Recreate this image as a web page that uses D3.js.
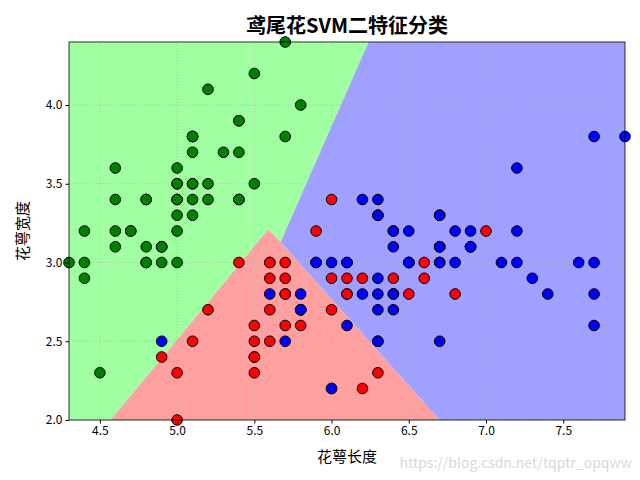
<!DOCTYPE html>
<html><head><meta charset="utf-8">
<script src="https://cdn.jsdelivr.net/npm/d3@7"></script>
<style>body{margin:0;background:#fff}</style>
</head><body>
<svg id="c" width="640" height="480"></svg>
<script>
var setosa = [[5.1,3.5],[4.9,3.0],[4.7,3.2],[4.6,3.1],[5.0,3.6],[5.4,3.9],[4.6,3.4],[5.0,3.4],[4.4,2.9],[4.9,3.1],[5.4,3.7],[4.8,3.4],[4.8,3.0],[4.3,3.0],[5.8,4.0],[5.7,4.4],[5.4,3.9],[5.1,3.5],[5.7,3.8],[5.1,3.8],[5.4,3.4],[5.1,3.7],[4.6,3.6],[5.1,3.3],[4.8,3.4],[5.0,3.0],[5.0,3.4],[5.2,3.5],[5.2,3.4],[4.7,3.2],[4.8,3.1],[5.4,3.4],[5.2,4.1],[5.5,4.2],[4.9,3.1],[5.0,3.2],[5.5,3.5],[4.9,3.1],[4.4,3.0],[5.1,3.4],[5.0,3.5],[4.5,2.3],[4.4,3.2],[5.0,3.5],[5.1,3.8],[4.8,3.0],[5.1,3.8],[4.6,3.2],[5.3,3.7],[5.0,3.3]];
var versicolor = [[7.0,3.2],[6.4,3.2],[6.9,3.1],[5.5,2.3],[6.5,2.8],[5.7,2.8],[6.3,3.3],[4.9,2.4],[6.6,2.9],[5.2,2.7],[5.0,2.0],[5.9,3.0],[6.0,2.2],[6.1,2.9],[5.6,2.9],[6.7,3.1],[5.6,3.0],[5.8,2.7],[6.2,2.2],[5.6,2.5],[5.9,3.2],[6.1,2.8],[6.3,2.5],[6.1,2.8],[6.4,2.9],[6.6,3.0],[6.8,2.8],[6.7,3.0],[6.0,2.9],[5.7,2.6],[5.5,2.4],[5.5,2.4],[5.8,2.7],[6.0,2.7],[5.4,3.0],[6.0,3.4],[6.7,3.1],[6.3,2.3],[5.6,3.0],[5.5,2.5],[5.5,2.6],[6.1,3.0],[5.8,2.6],[5.0,2.3],[5.6,2.7],[5.7,3.0],[5.7,2.9],[6.2,2.9],[5.1,2.5],[5.7,2.8]];
var virginica = [[6.3,3.3],[5.8,2.7],[7.1,3.0],[6.3,2.9],[6.5,3.0],[7.6,3.0],[4.9,2.5],[7.3,2.9],[6.7,2.5],[7.2,3.6],[6.5,3.2],[6.4,2.7],[6.8,3.0],[5.7,2.5],[5.8,2.8],[6.4,3.2],[6.5,3.0],[7.7,3.8],[7.7,2.6],[6.0,2.2],[6.9,3.2],[5.6,2.8],[7.7,2.8],[6.3,2.7],[6.7,3.3],[7.2,3.2],[6.2,2.8],[6.1,3.0],[6.4,2.8],[7.2,3.0],[7.4,2.8],[7.9,3.8],[6.4,2.8],[6.3,2.8],[6.1,2.6],[7.7,3.0],[6.3,3.4],[6.4,3.1],[6.0,3.0],[6.9,3.1],[6.7,3.1],[6.9,3.1],[5.8,2.7],[6.8,3.2],[6.7,3.3],[6.7,3.0],[6.3,2.5],[6.5,3.0],[6.2,3.4],[5.9,3.0]];

// decision regions
var greenRegion = [[4.3,2.0],[4.57,2.0],[5.59,3.21],[5.67,3.13],[6.24,4.4],[4.3,4.4]];
var redRegion = [[4.57,2.0],[5.59,3.21],[5.67,3.13],[6.70,2.0]];
var blueRegion = [[5.67,3.13],[6.70,2.0],[7.9,2.0],[7.9,4.4],[6.24,4.4]];

var xTicks = [4.5,5.0,5.5,6.0,6.5,7.0,7.5];
var yTicks = [2.0,2.5,3.0,3.5,4.0];

var font = "'Noto Sans CJK SC', sans-serif";
var m = {left: 69, right: 15, top: 42, bottom: 60};
var W = 640, H = 480;
var svg = d3.select('#c');

var x = d3.scaleLinear().domain([4.3, 7.9]).range([m.left, W - m.right]);
var y = d3.scaleLinear().domain([2.0, 4.4]).range([H - m.bottom, m.top]);

var line = d3.line().x(d => x(d[0])).y(d => y(d[1]));
[[greenRegion, '#a0ffa0'], [redRegion, '#ffa0a0'], [blueRegion, '#a0a0ff']].forEach(r => {
  svg.append('path').attr('d', line(r[0]) + 'Z').attr('fill', r[1]);
});

// grid
svg.append('g').selectAll('line').data(xTicks).join('line')
  .attr('x1', d => x(d)).attr('x2', d => x(d)).attr('y1', m.top).attr('y2', H - m.bottom)
  .attr('stroke', '#b0b0b0').attr('stroke-width', 0.8).attr('stroke-dasharray', '1,2');
svg.append('g').selectAll('line').data(yTicks).join('line')
  .attr('y1', d => y(d)).attr('y2', d => y(d)).attr('x1', m.left).attr('x2', W - m.right)
  .attr('stroke', '#b0b0b0').attr('stroke-width', 0.8).attr('stroke-dasharray', '1,2');

[[setosa, 'green'], [versicolor, 'red'], [virginica, 'blue']].forEach(s => {
  svg.append('g').selectAll('circle').data(s[0]).join('circle')
    .attr('cx', d => x(d[0])).attr('cy', d => y(d[1])).attr('r', 5.3)
    .attr('fill', s[1]).attr('stroke', 'black').attr('stroke-width', 1);
});

var gx = svg.append('g').attr('transform', 'translate(0,' + (H - m.bottom) + ')')
  .call(d3.axisBottom(x).tickValues(xTicks).tickFormat(d3.format('.1f')).tickSize(3.5));
var gy = svg.append('g').attr('transform', 'translate(' + m.left + ',0)')
  .call(d3.axisLeft(y).tickValues(yTicks).tickFormat(d3.format('.1f')).tickSize(3.5));
[gx, gy].forEach(g => {
  g.select('.domain').remove();
  g.selectAll('text').attr('font-family', font).attr('font-size', 12).attr('fill', '#000');
});

svg.append('rect').attr('x', m.left).attr('y', m.top)
  .attr('width', W - m.left - m.right).attr('height', H - m.top - m.bottom)
  .attr('fill', 'none').attr('stroke', '#000').attr('stroke-width', 0.8);

svg.append('text').attr('x', (m.left + W - m.right) / 2).attr('y', 33).attr('text-anchor', 'middle')
  .attr('font-family', font).attr('font-size', 20).attr('font-weight', 'bold').text('鸢尾花SVM二特征分类');
svg.append('text').attr('x', (m.left + W - m.right) / 2).attr('y', 462).attr('text-anchor', 'middle')
  .attr('font-family', font).attr('font-size', 15).text('花萼长度');
svg.append('text').attr('transform', 'translate(28,' + ((m.top + H - m.bottom) / 2) + ') rotate(-90)')
  .attr('text-anchor', 'middle').attr('font-family', font).attr('font-size', 15).text('花萼宽度');
svg.append('text').attr('x', 632).attr('y', 468).attr('text-anchor', 'end')
  .attr('font-family', font).attr('font-size', 14).attr('fill', '#d8d8d8').text('https://blog.csdn.net/tqptr_opqww');
</script>
</body></html>
